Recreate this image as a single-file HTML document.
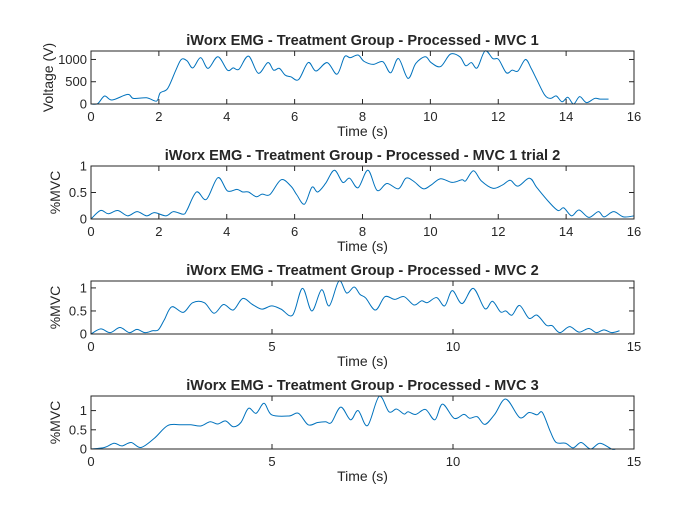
<!DOCTYPE html>
<html><head><meta charset="utf-8"><style>
html,body{margin:0;padding:0;background:#fff;}
svg text{font-family:"Liberation Sans",Arial,sans-serif;fill:#262626;}
</style></head><body>
<svg id="fig" width="700" height="525" viewBox="0 0 700 525" xmlns="http://www.w3.org/2000/svg">
<rect width="700" height="525" fill="#fff"/>
</svg>
<script>
// ---- data ----
const titles=["iWorx EMG - Treatment Group - Processed - MVC 1","iWorx EMG - Treatment Group - Processed - MVC 1 trial 2","iWorx EMG - Treatment Group - Processed - MVC 2","iWorx EMG - Treatment Group - Processed - MVC 3"];
const yLabels=["Voltage (V)","%MVC","%MVC","%MVC"];
const xMaxes=[16,16,15,15];
const yMaxes=[1190,1,1.15,1.38];
const xTicks1=[0,2,4,6,8,10,12,14,16];
const xTicks2=[0,5,10,15];
const yTicks1=[0,500,1000];
const yTicks2=[0,0.5,1];
const t1=[0,0.2,0.4,0.62,1.08,1.25,1.64,1.93,2.04,2.26,2.5,2.66,2.83,3.0,3.23,3.45,3.74,4.02,4.19,4.36,4.64,4.93,5.21,5.38,5.55,5.72,5.89,6.12,6.4,6.63,6.96,7.25,7.47,7.64,7.87,8.04,8.32,8.6,8.83,9.06,9.34,9.57,9.85,10.02,10.3,10.59,10.87,11.04,11.21,11.38,11.61,11.84,12.01,12.24,12.41,12.58,12.8,12.97,13.14,13.37,13.54,13.71,13.88,14.05,14.22,14.4,14.6,14.84,15.0,15.25];
const v1=[0,10,180,90,215,125,140,65,250,350,760,1000,970,810,1040,800,1060,760,810,780,1075,690,930,760,800,650,610,550,930,740,930,670,1060,1040,1100,960,890,950,700,1020,575,910,1060,930,840,1120,1060,860,930,810,1190,1020,1000,700,760,740,1000,800,540,200,125,180,50,150,0,165,30,125,110,110];
const t2=[0,0.28,0.51,0.79,1.08,1.36,1.64,1.87,2.21,2.43,2.72,2.83,3.11,3.4,3.74,4.02,4.3,4.47,4.64,4.87,5.04,5.27,5.6,5.89,6.06,6.29,6.51,6.68,6.91,7.17,7.42,7.62,7.87,8.16,8.43,8.72,9.06,9.28,9.51,9.79,10.02,10.3,10.64,10.93,11.04,11.27,11.5,11.84,12.12,12.35,12.58,12.92,13.14,13.48,13.76,13.93,14.16,14.38,14.67,14.95,15.12,15.4,15.69,16];
const v2=[0,0.16,0.10,0.16,0.06,0.14,0.06,0.12,0.06,0.14,0.09,0.17,0.51,0.37,0.78,0.53,0.56,0.51,0.51,0.42,0.47,0.46,0.74,0.62,0.46,0.28,0.60,0.51,0.67,0.92,0.69,0.77,0.59,0.92,0.54,0.67,0.57,0.77,0.71,0.57,0.64,0.76,0.69,0.74,0.72,0.91,0.72,0.58,0.64,0.73,0.62,0.77,0.59,0.33,0.16,0.21,0.06,0.17,0.03,0.14,0.04,0.14,0.04,0.06];
const t3=[0,0.27,0.53,0.8,1.06,1.27,1.49,1.7,1.86,2.02,2.23,2.55,2.81,3.13,3.4,3.66,3.93,4.19,4.46,4.72,4.99,5.25,5.57,5.84,6.1,6.37,6.58,6.85,7.06,7.27,7.43,7.59,7.86,8.12,8.39,8.65,8.92,9.13,9.29,9.55,9.77,9.98,10.25,10.56,10.88,11.09,11.31,11.46,11.63,11.84,12.1,12.32,12.58,12.74,12.95,13.22,13.48,13.75,13.96,14.17,14.38,14.6];
const v3=[0,0.11,0.03,0.14,0.03,0.10,0.03,0.07,0.09,0.30,0.59,0.47,0.68,0.68,0.45,0.64,0.52,0.77,0.64,0.54,0.61,0.54,0.41,0.99,0.50,0.96,0.61,1.15,0.89,1.02,0.86,0.78,0.52,0.81,0.75,0.81,0.63,0.72,0.68,0.79,0.61,0.94,0.66,0.99,0.55,0.71,0.48,0.50,0.41,0.62,0.34,0.41,0.19,0.18,0.03,0.16,0.04,0.12,0.03,0.09,0.03,0.07];
const t4=[0,0.37,0.64,0.85,1.11,1.38,1.75,2.12,2.49,2.76,3.03,3.29,3.5,3.72,3.93,4.14,4.35,4.56,4.78,4.99,5.47,5.73,6.0,6.26,6.48,6.64,6.9,7.17,7.38,7.64,7.96,8.23,8.44,8.65,8.76,8.97,9.24,9.5,9.71,10.03,10.3,10.46,10.67,10.88,11.15,11.46,11.84,12.1,12.32,12.47,12.69,12.85,13.11,13.32,13.54,13.8,14.06,14.38,14.5];
const v4=[0,0.04,0.15,0.08,0.17,0.04,0.28,0.61,0.63,0.63,0.6,0.71,0.65,0.73,0.58,0.69,1.06,0.93,1.19,0.89,0.86,0.93,0.63,0.69,0.71,0.69,1.09,0.76,1.0,0.61,1.37,0.97,1.04,0.91,0.97,0.90,1.03,0.76,1.17,0.80,0.90,0.80,0.84,0.64,0.9,1.30,0.82,0.95,0.89,0.95,0.45,0.17,0.15,0.03,0.17,0,0.15,0,0];
const seriesT=[t1,t2,t3,t4];
const seriesV=[v1,v2,v3,v4];
// ---- drawing ----
const NS="http://www.w3.org/2000/svg";
const svg=document.getElementById('fig');
const L=91,R=634;
const tops=[51,166,281,396],bots=[104,219,334,449];
function mk(tag,attrs,parent){const e=document.createElementNS(NS,tag);for(const k in attrs)e.setAttribute(k,attrs[k]);(parent||svg).appendChild(e);return e;}
function fmt(v){return String(v);}
for(let i=0;i<4;i++){
  const top=tops[i],bot=bots[i];
  const xs=v=>L+v/xMaxes[i]*(R-L);
  const ys=v=>bot-v/yMaxes[i]*(bot-top);
  const g=mk('g',{});
  
  
  const bg=mk('rect',{x:L,y:top,width:R-L,height:bot-top,fill:'#fff'},g);
  
  
  const T=seriesT[i],V=seriesV[i];
  const P=T.map((t,k)=>[xs(t),ys(V[k])]);
  let d='M'+P[0][0].toFixed(2)+','+P[0][1].toFixed(2);
  for(let k=0;k<P.length-1;k++){
    const p0=P[k-1]||P[k],p1=P[k],p2=P[k+1],p3=P[k+2]||P[k+1];
    const c1=[p1[0]+(p2[0]-p0[0])/6,p1[1]+(p2[1]-p0[1])/6];
    const c2=[p2[0]-(p3[0]-p1[0])/6,p2[1]-(p3[1]-p1[1])/6];
    c1[1]=Math.min(c1[1],bot+2);c2[1]=Math.min(c2[1],bot+2);
    d+=' C'+c1[0].toFixed(2)+','+c1[1].toFixed(2)+' '+c2[0].toFixed(2)+','+c2[1].toFixed(2)+' '+p2[0].toFixed(2)+','+p2[1].toFixed(2);
  }
  const line=mk('path',{d:d,fill:'none',stroke:'#0072bd','stroke-width':1,'stroke-linejoin':'round'},g);
  
  
  const box=mk('rect',{x:L,y:top,width:R-L,height:bot-top,fill:'none',stroke:'#262626','stroke-width':1},g);
  
  
  const xt=i<2?xTicks1:xTicks2;
  xt.forEach(v=>{
    const x=xs(v);
    mk('line',{x1:x,x2:x,y1:bot,y2:bot-5,stroke:'#262626'},g);
    mk('line',{x1:x,x2:x,y1:top,y2:top+5,stroke:'#262626'},g);
    const tl=mk('text',{x:x,y:bot+17,'text-anchor':'middle','font-size':13},g);
    tl.textContent=fmt(v);
    
    
  });
  const yt=i===0?yTicks1:yTicks2;
  yt.forEach(v=>{
    const y=ys(v);
    mk('line',{x1:L,x2:L+5,y1:y,y2:y,stroke:'#262626'},g);
    mk('line',{x1:R,x2:R-5,y1:y,y2:y,stroke:'#262626'},g);
    const tl=mk('text',{x:L-4,y:y+4.5,'text-anchor':'end','font-size':13},g);
    tl.textContent=fmt(v);
    
    
  });
  const tt=mk('text',{x:(L+R)/2,y:top-6,'text-anchor':'middle','font-size':14.6,'font-weight':'bold'},g);
  tt.textContent=titles[i];
  
  
  const xl=mk('text',{x:(L+R)/2,y:bot+32,'text-anchor':'middle','font-size':14},g);
  xl.textContent='Time (s)';
  
  
  const yx=i===0?53:60,yc=(top+bot)/2;
  const yl=mk('text',{x:yx,y:yc,'text-anchor':'middle','font-size':14,transform:'rotate(-90 '+yx+' '+yc+')'},g);
  yl.textContent=yLabels[i];
  
  
}
</script>
</body></html>
